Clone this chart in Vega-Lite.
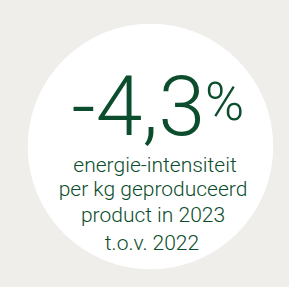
{
  "$schema": "https://vega.github.io/schema/vega-lite/v6.json",
  "width": 289,
  "height": 287,
  "padding": 0,
  "autosize": {"type": "none"},
  "background": "#f0eeea",
  "config": {"view": {"stroke": null}},
  "layer": [
    {
      "data": {"values": [{"x": 150.5, "y": 146.5}]},
      "mark": {"type": "point", "shape": "circle", "filled": true, "color": "#ffffff", "opacity": 1, "size": 60260},
      "encoding": {
        "x": {"field": "x", "type": "quantitative", "scale": {"domain": [0, 289]}, "axis": null},
        "y": {"field": "y", "type": "quantitative", "scale": {"domain": [0, 287], "reverse": true}, "axis": null}
      }
    },
    {
      "data": {"values": [{"t": "-4,3", "x": 205, "y": 135}]},
      "mark": {"type": "text", "align": "right", "baseline": "alphabetic", "font": "Roboto", "fontWeight": 300, "fontSize": 84, "color": "#0b4d2c"},
      "encoding": {
        "x": {"field": "x", "type": "quantitative", "scale": {"domain": [0, 289]}, "axis": null},
        "y": {"field": "y", "type": "quantitative", "scale": {"domain": [0, 287], "reverse": true}, "axis": null},
        "text": {"field": "t"}
      }
    },
    {
      "data": {"values": [{"t": "%", "x": 205, "y": 120}]},
      "mark": {"type": "text", "align": "left", "baseline": "alphabetic", "font": "Roboto", "fontWeight": 300, "fontSize": 53, "color": "#0b4d2c"},
      "encoding": {
        "x": {"field": "x", "type": "quantitative", "scale": {"domain": [0, 289]}, "axis": null},
        "y": {"field": "y", "type": "quantitative", "scale": {"domain": [0, 287], "reverse": true}, "axis": null},
        "text": {"field": "t"}
      }
    },
    {
      "data": {"values": [
        {"t": "energie-intensiteit", "x": 155, "y": 172},
        {"t": "per kg geproduceerd", "x": 153, "y": 196},
        {"t": "product in 2023", "x": 153, "y": 222},
        {"t": "t.o.v. 2022", "x": 152, "y": 250}
      ]},
      "mark": {"type": "text", "align": "center", "baseline": "alphabetic", "font": "Roboto", "fontWeight": 300, "fontSize": 21, "color": "#0b4d2c"},
      "encoding": {
        "x": {"field": "x", "type": "quantitative", "scale": {"domain": [0, 289]}, "axis": null},
        "y": {"field": "y", "type": "quantitative", "scale": {"domain": [0, 287], "reverse": true}, "axis": null},
        "text": {"field": "t"}
      }
    }
  ]
}
